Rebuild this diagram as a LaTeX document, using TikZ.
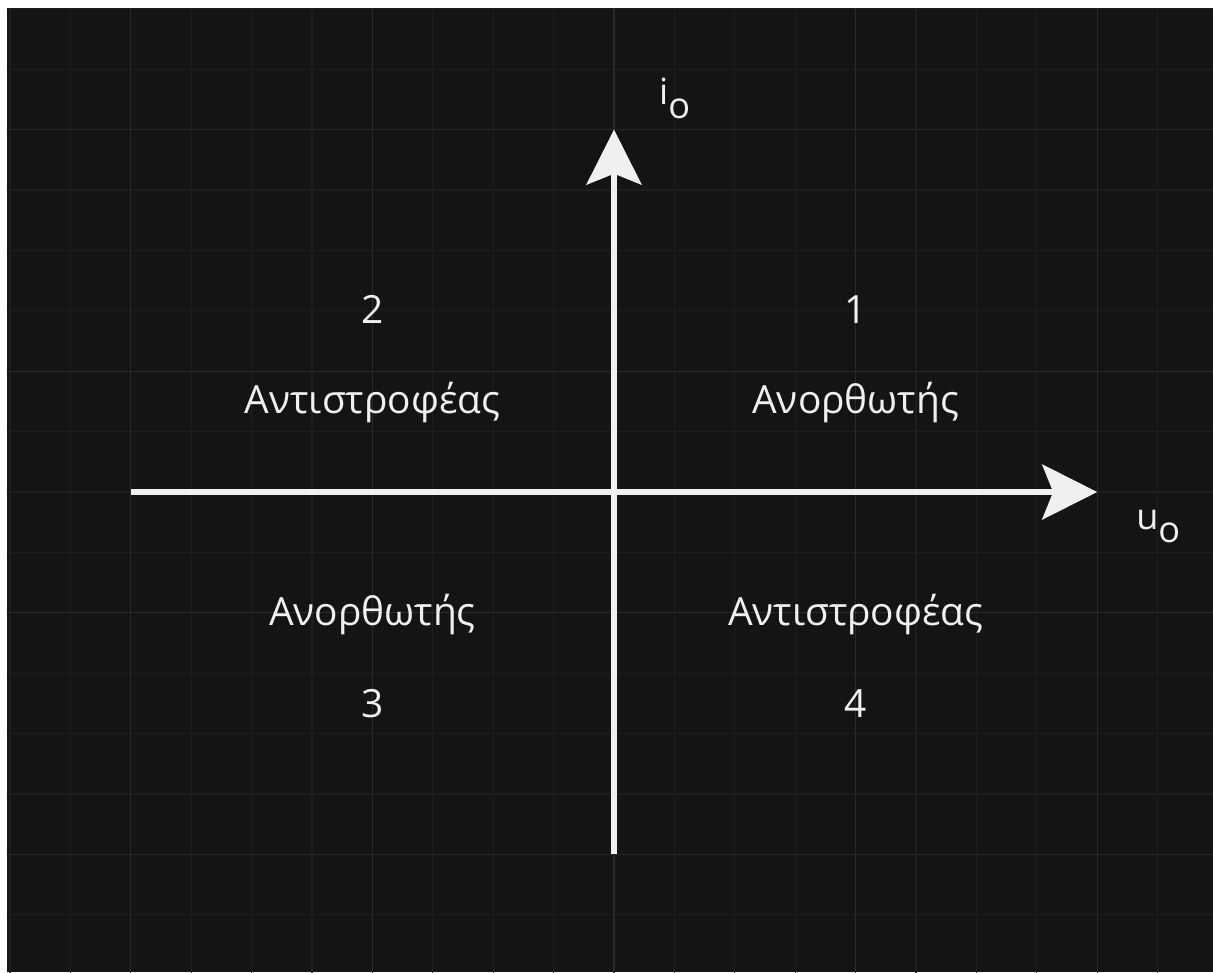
\documentclass[tikz,border=0pt]{standalone}
\usepackage{fontspec}
\setmainfont{Open Sans}
\usetikzlibrary{arrows.meta}
\definecolor{bgdark}{HTML}{141414}
\definecolor{gridminor}{HTML}{1E1E1E}
\definecolor{gridmajor}{HTML}{2A2A2A}
\definecolor{axiswhite}{HTML}{F0F0F0}
\tikzset{
  quadlbl/.style={draw=none, fill=none, axiswhite, font=\fontsize{18.3}{22}\selectfont, inner sep=0pt, anchor=base},
  axislbl/.style={draw=none, fill=none, axiswhite, font=\fontsize{17}{20}\selectfont, inner sep=0pt, anchor=base west},
  axisline/.style={line width=2.8pt, draw=axiswhite, -{Stealth[length=0.91cm, width=0.91cm, inset=0.18cm]}},
  gridline/.style={line width=0.6pt},
}

\begin{document}
\begin{tikzpicture}
\useasboundingbox (-10.166,-7.947) rectangle (9.917,8.146);
\fill[white] (-10.166,-7.947) rectangle (9.917,8.146);
\fill[bgdark] (-10.05,-7.947) rectangle (9.917,8.0);
% background grid
\begin{scope}
\clip (-10.05,-7.947) rectangle (9.917,8.0);
\draw[gridline, gridminor] (-11,-9) grid (11,9);
\draw[gridline, gridmajor, yshift=2cm] (-12,-12) grid[xstep=4, ystep=4] (12,12);
\end{scope}
% axes
\coordinate (xs) at (-8,0);
\coordinate (xe) at (8,0);
\coordinate (ys) at (0,-6);
\coordinate (ye) at (0,6);
\draw[axisline] (xs) -- (xe);
\draw[axisline] (ys) -- (ye);
\node[axislbl] (ulbl) at (8.64,-0.613) {u\raisebox{-6.2pt}{o}};
\node[axislbl] (ilbl) at (0.74,6.41) {i\raisebox{-6.6pt}{o}};
% quadrants
\node[quadlbl] (q1) at (4,2.798) {1};
\node[quadlbl] (q1t) at (4,1.308) {Ανορθωτής};
\node[quadlbl] (q2) at (-4,2.798) {2};
\node[quadlbl] (q2t) at (-4,1.308) {Αντιστροφέας};
\node[quadlbl] (q3t) at (-4,-2.202) {Ανορθωτής};
\node[quadlbl] (q3) at (-4,-3.725) {3};
\node[quadlbl] (q4t) at (4,-2.202) {Αντιστροφέας};
\node[quadlbl] (q4) at (4,-3.725) {4};
\end{tikzpicture}
\end{document}
